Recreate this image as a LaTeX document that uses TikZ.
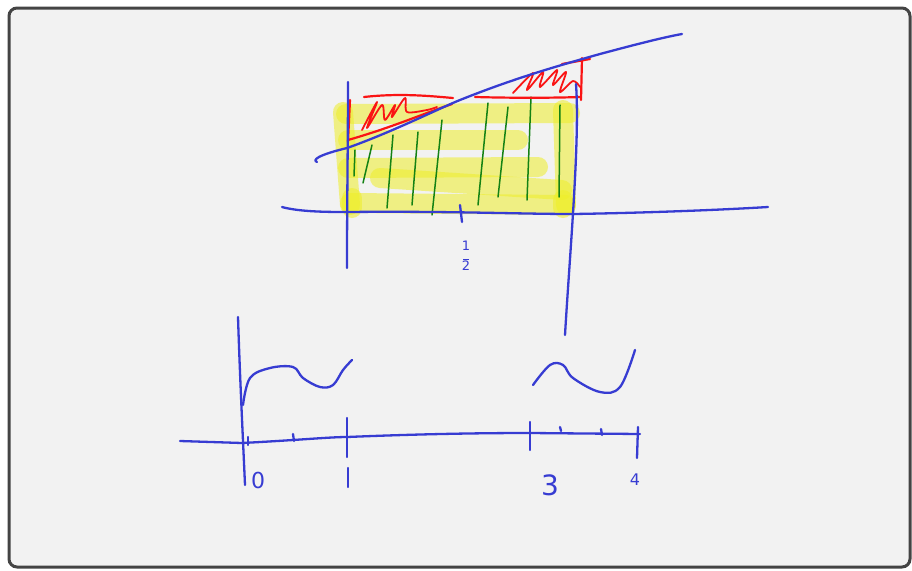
\documentclass[tikz,border=0pt]{standalone}
\usepackage{fontspec}
\setmainfont{DejaVu Sans}
\definecolor{bg}{RGB}{242,242,242}
\definecolor{frame}{RGB}{68,68,68}
\definecolor{pen}{RGB}{55,60,210}
\definecolor{penred}{RGB}{250,20,20}
\definecolor{pengreen}{RGB}{20,130,20}
\definecolor{hl}{RGB}{238,238,40}
\tikzset{
  bluepen/.style={draw=pen, line width=2.3pt, line cap=round, line join=round},
  redpen/.style={draw=penred, line width=2.2pt, line cap=round, line join=round},
  greenpen/.style={draw=pengreen, line width=1.5pt, line cap=round},
  hlpen/.style={draw=hl, draw opacity=0.55, line width=20pt, line cap=round},
  lbl/.style={text=pen, inner sep=0pt}
}
\begin{document}
\begin{tikzpicture}[x=1pt,y=-1pt]
\useasboundingbox (0,0) rectangle (912,570);
\fill[white] (0,0) rectangle (912,570);
\draw[frame, line width=3pt, fill=bg, rounded corners=8pt] (9,8) rectangle (910,567);

% yellow highlight strokes
\draw[hlpen] (346,114) -- (570,113);
\draw[hlpen] (348,140) -- (518,140);
\draw[hlpen] (348,168) -- (538,167);
\draw[hlpen] (380,178) -- (562,190);
\draw[hlpen] (350,203) -- (566,205);
\draw[hlpen] (343,112) -- (350,205);
\draw[hlpen] (563,110) -- (566,205);
\draw[hlpen] (352,198) -- (352,208);
\draw[hlpen] (563,200) -- (563,208);

% green vertical strokes
\draw[greenpen] (355,150) -- (354,176);
\draw[greenpen] (372,145) -- (363,183);
\draw[greenpen] (393,135) -- (387,208);
\draw[greenpen] (418,132) -- (412,205);
\draw[greenpen] (442,120) -- (432,215);
\draw[greenpen] (488,103) -- (478,205);
\draw[greenpen] (508,107) -- (498,197);
\draw[greenpen] (531,97) -- (527,200);
\draw[greenpen] (560,105) -- (559,197);

% red outlines
\draw[redpen] (364,97) .. controls (400,93) and (430,96) .. (453,98);
\draw[redpen] (350,100) -- (348,142);
\draw[redpen] (348,140) .. controls (390,128) and (420,115) .. (452,104);
\draw[redpen, line width=1.8pt] plot[smooth] coordinates {(362,130) (377,102) (367,128) (382,105) (385,120) (395,105) (392,117) (405,98) (407,112) (427,110) (437,107)};
\draw[redpen] (475,97) .. controls (510,98) and (550,98) .. (581,97);
\draw[redpen] (562,64) -- (590,59);
\draw[redpen] (582,58) -- (581,100);
\draw[redpen, line width=1.8pt] plot[smooth] coordinates {(513,93) (533,73) (527,90) (543,72) (540,87) (557,70) (553,85) (566,72) (560,92) (573,81) (580,87)};

% top graph axes and curve
\draw[bluepen] (282,207) .. controls (300,212) and (330,212) .. (347,212) .. controls (450,211) and (520,214) .. (573,214) .. controls (640,213) and (720,210) .. (768,207);
\draw[bluepen] (348,82) .. controls (348,140) and (347,200) .. (347,268);
\draw[bluepen] (576,84) .. controls (580,140) and (570,250) .. (565,335);
\draw[bluepen] (317,162) .. controls (312,160) and (318,155) .. (347,148) .. controls (390,133) and (440,108) .. (460,100) .. controls (510,80) and (550,68) .. (600,54) .. controls (630,46) and (660,38) .. (682,34);
\draw[bluepen] (460,205) -- (462,222);

\node[lbl, font=\fontsize{13}{13}\selectfont, align=center] (half) at (466,256) {1\\[-4pt]\rule{6pt}{1pt}\\[-2pt]2};

% bottom axes
\draw[bluepen] (180,441) -- (242,443) .. controls (300,440) and (330,437) .. (347,437) .. controls (420,434) and (480,433) .. (530,433) -- (640,434);
\draw[bluepen] (238,317) .. controls (240,380) and (243,440) .. (245,485);
\draw[bluepen] (248,437) -- (248,445);
\draw[bluepen] (293,434) -- (294,441);
\draw[bluepen] (347,418) -- (347,457);
\draw[bluepen] (530,422) -- (530,450);
\draw[bluepen] (560,427) -- (561,431);
\draw[bluepen] (601,429) -- (602,435);
\draw[bluepen] (638,427) -- (637,458);
\draw[bluepen] (348,468) -- (348,487);

% waves
\draw[bluepen] plot[smooth, tension=0.6] coordinates {(243,405) (250,378) (270,368) (293,367) (303,378) (320,387) (333,385) (343,370) (352,360)};
\draw[bluepen] plot[smooth, tension=0.6] coordinates {(533,385) (550,365) (563,365) (573,378) (600,392) (620,387) (635,350)};

% labels
\node[lbl, font=\fontsize{22}{22}\selectfont] (l0) at (258,480) {0};
\node[lbl, font=\fontsize{28}{28}\selectfont] (l3) at (550,485) {3};
\node[lbl, font=\fontsize{16}{16}\selectfont] (l4) at (635,480) {4};
\end{tikzpicture}
\end{document}
